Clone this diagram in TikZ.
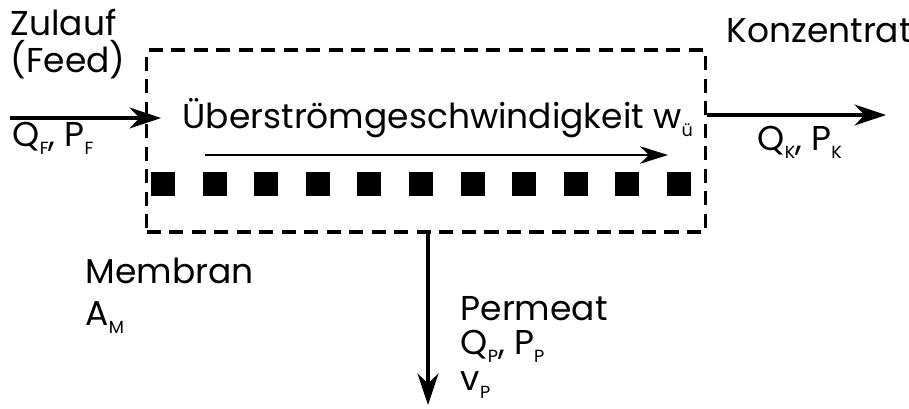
\documentclass[tikz,border=0pt]{standalone}
\usepackage{fontspec}
\setmainfont{Poppins}
\usepackage{tikz}
\usetikzlibrary{arrows.meta, positioning}

\newcommand{\idx}[1]{\raisebox{-0.45ex}{\tiny #1}}

\begin{document}
\begin{tikzpicture}[x=0.01cm, y=-0.01cm, node distance=0.37cm,
    lbl/.style={inner sep=0pt, anchor=base west, font=\fontsize{9.8}{12}\selectfont},
    flow/.style={-{Stealth[length=9pt, width=6pt]}, line width=0.9pt},
    stream/.style={-{Stealth[length=8pt, width=5pt]}, line width=0.45pt},
    module/.style={draw, dashed, line width=0.9pt, dash pattern=on 4pt off 2.4pt,
                minimum width=5.58cm, minimum height=1.82cm, inner sep=0pt},
    pore/.style={fill=black, minimum width=0.24cm, minimum height=0.24cm, inner sep=0pt}]

\useasboundingbox (0,0) rectangle (909,408);

% Modul mit Membran
\node[module] (mod) at (426,141) {};
\foreach \i in {0,...,10}
  \node[pore] (p\i) at (163+\i*51.6,184) {};

% Zulauf
\node[lbl] (zul) at (10,35) {Zulauf};
\node[below=0.37cm of zul.base west, lbl] (feed) {(Feed)};
\coordinate (fin) at (10,118);
\coordinate (fout) at (161,118);
\node[lbl] (qf) at (12,146) {Q\idx{F}, P\idx{F}};

% Ueberstroemung
\node[lbl] (wue) at (182,128) {Überströmgeschwindigkeit w\idx{ü}};
\coordinate (win) at (205,155);
\coordinate (wout) at (668,155);

% Konzentrat
\node[lbl] (konz) at (726,42) {Konzentrat};
\coordinate (kin) at (mod.east |- 0,115);
\coordinate (kout) at (886,115);
\node[lbl] (qk) at (757,150) {Q\idx{K}, P\idx{K}};

% Membran, Permeat
\node[lbl] (mem) at (85,283) {Membran};
\node[below=0.42cm of mem.base west, lbl] (am) {A\idx{M}};
\coordinate (pout) at (428,405);
\node[lbl] (perm) at (460,320) {Permeat};
\node[below=0.34cm of perm.base west, lbl] (qp) {Q\idx{P}, P\idx{P}};
\node[below=0.36cm of qp.base west, lbl] (vp) {v\idx{P}};

\draw[flow] (fin) -- (fout);
\draw[stream] (win) -- (wout);
\draw[flow] (kin) -- (kout);
\draw[flow] (mod.south -| pout) -- (pout);
\end{tikzpicture}
\end{document}
